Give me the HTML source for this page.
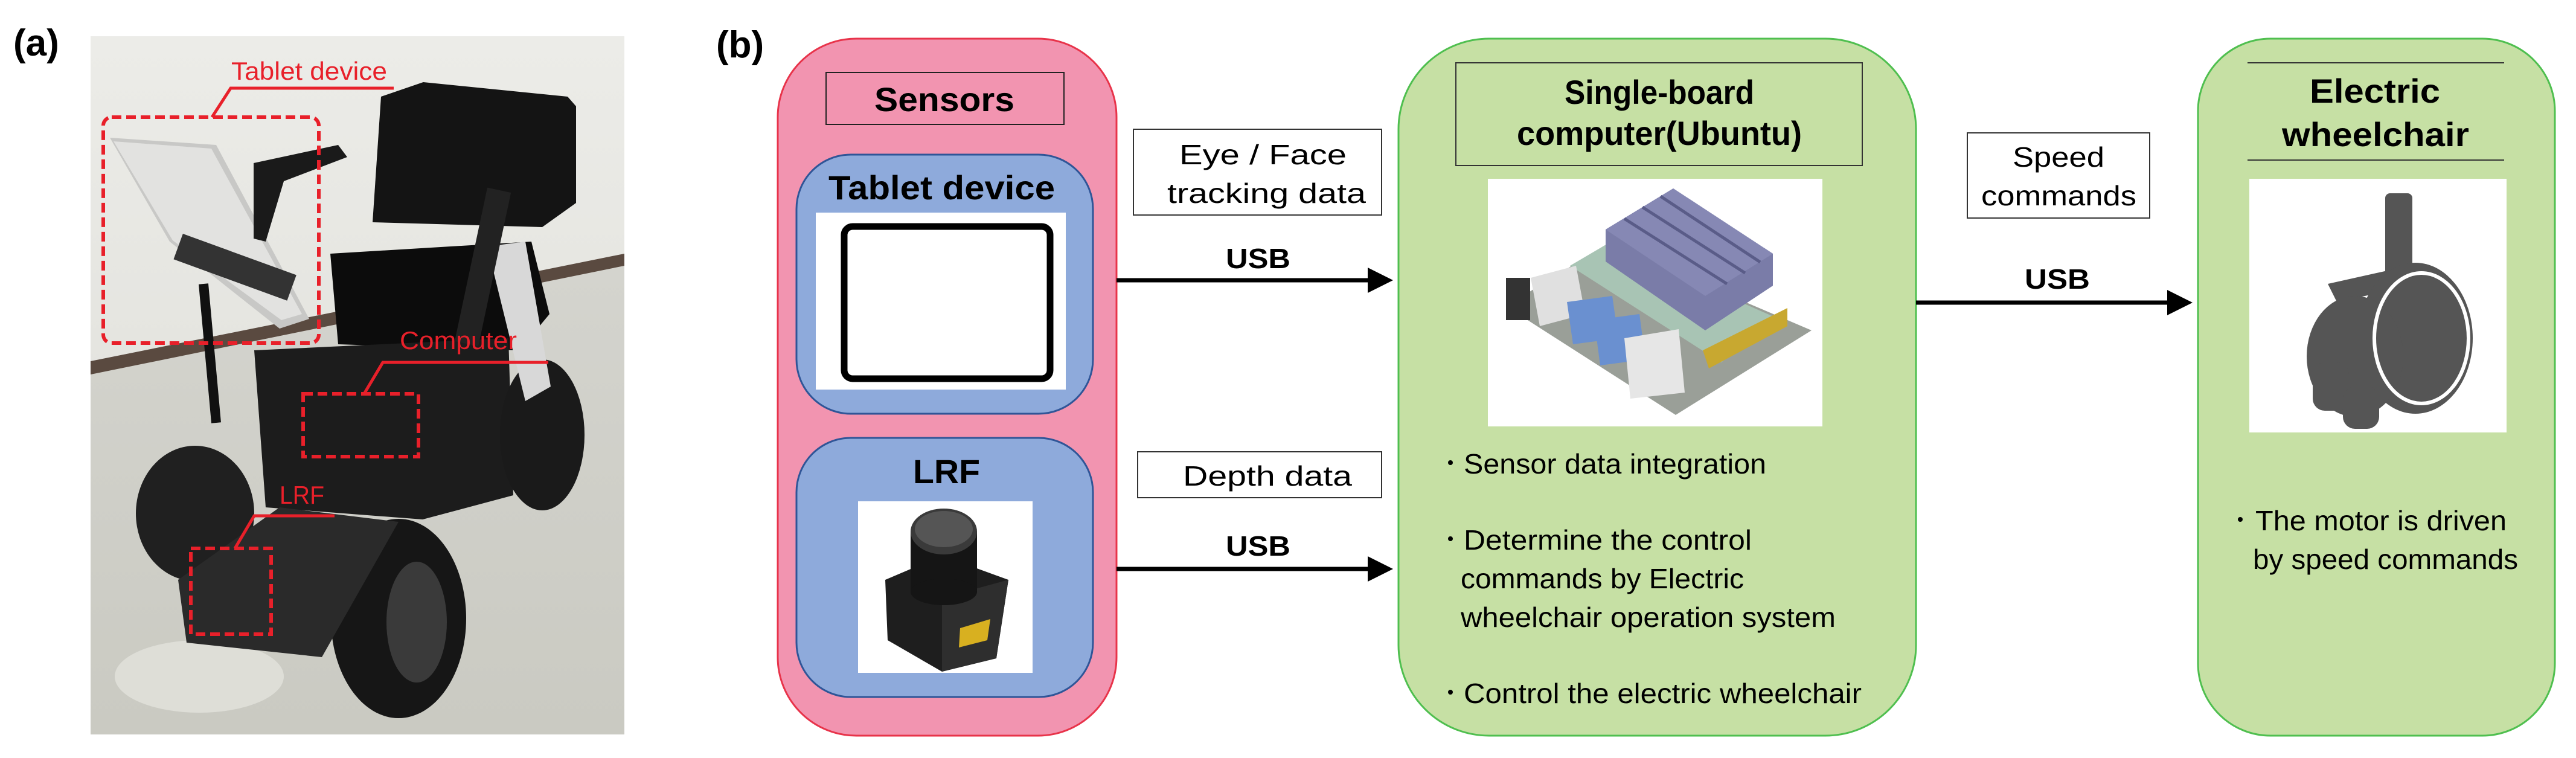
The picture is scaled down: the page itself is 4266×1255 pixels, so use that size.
<!DOCTYPE html>
<html><head><meta charset="utf-8"><style>
html,body{margin:0;padding:0;background:#fff;width:4266px;height:1255px;overflow:hidden}
svg{display:block}
text{font-family:"Liberation Sans",sans-serif}
</style></head><body>
<svg width="4266" height="1255" viewBox="0 0 4266 1255" xmlns="http://www.w3.org/2000/svg">
<defs>
<marker id="ah" markerWidth="6" markerHeight="6" refX="5" refY="3" orient="auto" markerUnits="strokeWidth"><path d="M0,0 L6,3 L0,6 z" fill="#000"/></marker>
<linearGradient id="wall" x1="0" y1="0" x2="0" y2="1"><stop offset="0" stop-color="#ececE8"/><stop offset="1" stop-color="#dcdcd6"/></linearGradient>
<linearGradient id="floor" x1="0" y1="0" x2="0" y2="1"><stop offset="0" stop-color="#d4d4ce"/><stop offset="1" stop-color="#cacac2"/></linearGradient>
</defs>

<!-- (a) -->
<text x="22" y="92" font-size="62" font-weight="bold">(a)</text>
<rect x="150" y="60" width="884" height="1156" fill="url(#wall)"/>
<polygon points="150,612 1034,434 1034,1216 150,1216" fill="url(#floor)"/>
<polygon points="150,598 1034,420 1034,440 150,620" fill="#5a4a40"/>
<ellipse cx="330" cy="1120" rx="140" ry="60" fill="#e6e6e0" opacity="0.7"/>
<!-- wheelchair -->
<polygon points="631,160 701,136 940,160 954,176 954,336 898,376 617,368" fill="#141414"/>
<polygon points="547,420 880,400 910,520 860,580 560,570" fill="#0c0c0c"/>
<polygon points="421,580 842,560 850,820 700,860 440,840" fill="#1c1c1c"/>
<ellipse cx="898" cy="720" rx="70" ry="125" fill="#1a1a1a"/>
<ellipse cx="323" cy="850" rx="98" ry="112" fill="#202020"/>
<ellipse cx="660" cy="1024" rx="112" ry="165" fill="#161616"/>
<ellipse cx="690" cy="1030" rx="50" ry="100" fill="#3a3a3a"/>
<polygon points="295,960 463,840 660,864 533,1088 309,1064" fill="#2a2a2a"/>
<polygon points="807,408 870,400 912,640 870,664" fill="#d8d8d8"/>
<rect x="780" y="312" width="40" height="260" fill="#222" transform="rotate(12 800 440)"/>
<polygon points="182,228 358,240 512,528 463,544 281,400" fill="#c8c8c6"/>
<polygon points="188,234 350,246 500,520 466,530 286,398" fill="#e2e2e0"/>
<line x1="337" y1="470" x2="358" y2="700" stroke="#111" stroke-width="16"/>
<rect x="290" y="420" width="200" height="45" fill="#333" transform="rotate(20 390 440)"/>
<polygon points="420,270 560,240 575,260 470,300 440,400 420,395" fill="#1a1a1a"/>
<g fill="none" stroke="#e8202a" stroke-width="6" stroke-dasharray="16,8">
<rect x="171" y="194" width="357" height="374" rx="14"/>
<rect x="502" y="652" width="191" height="104"/>
<rect x="316" y="908" width="133" height="142"/>
</g>
<g fill="none" stroke="#e8202a" stroke-width="5">
<polyline points="652,146 382,146 351,194"/>
<polyline points="908,600 634,600 603,652"/>
<polyline points="554,854 421,854 389,908"/>
</g>
<g fill="#e8202a" font-size="42">
<text x="383" y="132" textLength="258" lengthAdjust="spacingAndGlyphs">Tablet device</text>
<text x="662" y="578" textLength="194" lengthAdjust="spacingAndGlyphs">Computer</text>
<text x="463" y="834" textLength="74" lengthAdjust="spacingAndGlyphs">LRF</text>
</g>

<!-- (b) -->
<text x="1186" y="95" font-size="62" font-weight="bold">(b)</text>

<rect x="1288" y="64" width="561" height="1154" rx="130" fill="#f294b0" stroke="#e8334a" stroke-width="3"/>
<rect x="1368" y="120" width="394" height="86" fill="#f294b0" stroke="#222" stroke-width="2"/>
<text x="1448" y="184" font-size="56" font-weight="bold" textLength="232" lengthAdjust="spacingAndGlyphs">Sensors</text>
<rect x="1319" y="256" width="491" height="429" rx="90" fill="#8eaadb" stroke="#2f5597" stroke-width="3"/>
<text x="1372" y="330" font-size="56" font-weight="bold" textLength="375" lengthAdjust="spacingAndGlyphs">Tablet device</text>
<rect x="1351" y="352" width="414" height="293" fill="#fff"/>
<rect x="1398" y="375" width="341" height="252" rx="14" fill="#fff" stroke="#000" stroke-width="11"/>
<rect x="1319" y="725" width="491" height="429" rx="90" fill="#8eaadb" stroke="#2f5597" stroke-width="3"/>
<text x="1512" y="800" font-size="56" font-weight="bold" textLength="111" lengthAdjust="spacingAndGlyphs">LRF</text>
<rect x="1421" y="830" width="289" height="284" fill="#fff"/>
<polygon points="1466,960 1560,920 1670,960 1650,1090 1560,1112 1470,1060" fill="#1e1e1e"/>
<polygon points="1560,990 1670,960 1650,1090 1560,1112" fill="#2e2e2e"/>
<polygon points="1590,1040 1640,1025 1635,1060 1588,1072" fill="#d8b020"/>
<rect x="1508" y="880" width="110" height="100" fill="#151515"/>
<ellipse cx="1563" cy="980" rx="55" ry="22" fill="#151515"/>
<ellipse cx="1563" cy="880" rx="55" ry="38" fill="#3a3a3a"/>
<ellipse cx="1563" cy="876" rx="48" ry="30" fill="#555"/>

<rect x="1877" y="214" width="411" height="142" fill="#fff" stroke="#333" stroke-width="2"/>
<text x="1953" y="272" font-size="46" textLength="277" lengthAdjust="spacingAndGlyphs">Eye / Face</text>
<text x="1933" y="336" font-size="46" textLength="329" lengthAdjust="spacingAndGlyphs">tracking data</text>
<text x="2030" y="444" font-size="46" font-weight="bold" textLength="107" lengthAdjust="spacingAndGlyphs">USB</text>
<line x1="1849" y1="464" x2="2300" y2="464" stroke="#000" stroke-width="7" marker-end="url(#ah)"/>
<rect x="1884" y="748" width="404" height="76" fill="#fff" stroke="#333" stroke-width="2"/>
<text x="1959" y="804" font-size="46" textLength="280" lengthAdjust="spacingAndGlyphs">Depth data</text>
<text x="2030" y="920" font-size="46" font-weight="bold" textLength="107" lengthAdjust="spacingAndGlyphs">USB</text>
<line x1="1849" y1="942" x2="2300" y2="942" stroke="#000" stroke-width="7" marker-end="url(#ah)"/>

<rect x="2316" y="64" width="857" height="1154" rx="150" fill="#c6e0a4" stroke="#4fbf4f" stroke-width="3"/>
<rect x="2411" y="104" width="673" height="170" fill="#c6e0a4" stroke="#333" stroke-width="2"/>
<text x="2591" y="172" font-size="56" font-weight="bold" textLength="314" lengthAdjust="spacingAndGlyphs">Single-board</text>
<text x="2512" y="240" font-size="56" font-weight="bold" textLength="472" lengthAdjust="spacingAndGlyphs">computer(Ubuntu)</text>
<rect x="2464" y="296" width="554" height="410" fill="#fff"/>
<polygon points="2494,507 2663,403 3000,547 2775,687" fill="#9a9f98"/>
<polygon points="2600,440 2663,403 2950,530 2850,600" fill="#a8c4b4"/>
<polygon points="2659,380 2771,312 2936,420 2936,473 2824,547 2659,433" fill="#7a7ca8"/>
<polygon points="2659,380 2771,312 2936,420 2824,490" fill="#8688b4"/>
<g stroke="#5a5c88" stroke-width="5"><line x1="2690" y1="362" x2="2860" y2="470"/><line x1="2720" y1="343" x2="2890" y2="452"/><line x1="2750" y1="325" x2="2915" y2="434"/></g>
<polygon points="2820,580 2960,510 2960,540 2830,610" fill="#c8a830"/>
<rect x="2494" y="460" width="40" height="70" fill="#333"/>
<polygon points="2535,460 2610,440 2625,520 2550,540" fill="#e0e0e0"/>
<polygon points="2595,500 2670,490 2680,560 2605,570" fill="#6a90d0"/>
<polygon points="2640,530 2715,520 2725,595 2650,605" fill="#6a90d0"/>
<polygon points="2690,560 2780,545 2790,650 2700,660" fill="#e6e6e6"/>
<g font-size="46">
<circle cx="2402" cy="766" r="4"/><text x="2424" y="784" textLength="501" lengthAdjust="spacingAndGlyphs">Sensor data integration</text>
<circle cx="2402" cy="892" r="4"/><text x="2424" y="910" textLength="477" lengthAdjust="spacingAndGlyphs">Determine the control</text>
<text x="2419" y="974" textLength="469" lengthAdjust="spacingAndGlyphs">commands by Electric</text>
<text x="2419" y="1038" textLength="621" lengthAdjust="spacingAndGlyphs">wheelchair operation system</text>
<circle cx="2402" cy="1146" r="4"/><text x="2424" y="1164" textLength="659" lengthAdjust="spacingAndGlyphs">Control the electric wheelchair</text>
</g>

<rect x="3258" y="220" width="302" height="141" fill="#fff" stroke="#333" stroke-width="2"/>
<text x="3333" y="276" font-size="46" textLength="152" lengthAdjust="spacingAndGlyphs">Speed</text>
<text x="3281" y="340" font-size="46" textLength="257" lengthAdjust="spacingAndGlyphs">commands</text>
<text x="3353" y="478" font-size="46" font-weight="bold" textLength="108" lengthAdjust="spacingAndGlyphs">USB</text>
<line x1="3173" y1="501" x2="3624" y2="501" stroke="#000" stroke-width="7" marker-end="url(#ah)"/>

<rect x="3640" y="64" width="591" height="1154" rx="120" fill="#c6e0a4" stroke="#4fbf4f" stroke-width="3"/>
<line x1="3722" y1="104" x2="4147" y2="104" stroke="#333" stroke-width="2"/>
<line x1="3722" y1="265" x2="4147" y2="265" stroke="#333" stroke-width="2"/>
<text x="3825" y="170" font-size="56" font-weight="bold" textLength="216" lengthAdjust="spacingAndGlyphs">Electric</text>
<text x="3779" y="242" font-size="56" font-weight="bold" textLength="310" lengthAdjust="spacingAndGlyphs">wheelchair</text>
<rect x="3725" y="296" width="426" height="420" fill="#fff"/>
<g fill="#555">
<rect x="3950" y="320" width="45" height="170" rx="8"/>
<polygon points="3855,470 3990,440 4010,470 3870,500"/>
<ellipse cx="4000" cy="560" rx="95" ry="125"/>
<ellipse cx="3900" cy="590" rx="80" ry="100"/>
<rect x="3830" y="600" width="60" height="80" rx="20"/>
<rect x="3880" y="640" width="60" height="70" rx="20"/>
</g>
<ellipse cx="4010" cy="560" rx="78" ry="108" fill="none" stroke="#fff" stroke-width="6"/>
<g font-size="46">
<circle cx="3710" cy="860" r="4"/><text x="3735" y="878" textLength="416" lengthAdjust="spacingAndGlyphs">The motor is driven</text>
<text x="3731" y="942" textLength="439" lengthAdjust="spacingAndGlyphs">by speed commands</text>
</g>
</svg>
</body></html>
